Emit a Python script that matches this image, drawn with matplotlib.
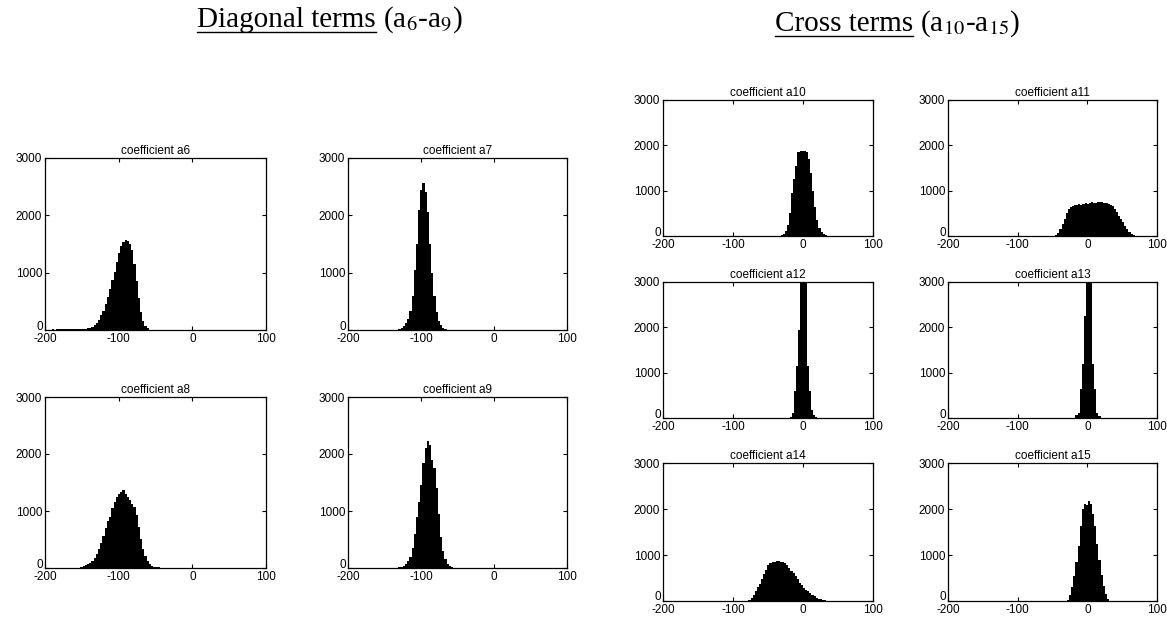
import numpy as np
import matplotlib.pyplot as plt
import matplotlib.transforms as mtransforms
from matplotlib.lines import Line2D

plt.rcParams['font.family'] = ['Liberation Sans', 'DejaVu Sans']
plt.rcParams['mathtext.fontset'] = 'stix'
plt.rcParams['axes.unicode_minus'] = False

# histogram data: left edge of first bin, bin width 3, counts per bin
bin_width = 3.0

a6_start = -200
a6_counts = [5, 8, 6, 10, 8, 12, 10, 12, 15, 12, 15, 18, 15, 20, 18, 20, 22, 25, 25, 28,
             30, 50, 80, 120, 180, 260, 340, 450, 580, 720, 880, 1020, 1180, 1350, 1460,
             1540, 1570, 1550, 1500, 1400, 1150, 850, 550, 320, 160, 70, 30]

a7_start = -131
a7_counts = [20, 40, 70, 120, 200, 330, 600, 1050, 1500, 2100, 2450, 2560, 2400, 2050,
             1500, 1000, 600, 320, 160, 80, 40, 20]

a8_start = -152
a8_counts = [20, 30, 45, 65, 90, 130, 180, 250, 340, 440, 560, 700, 820, 900, 1060, 1150,
             1250, 1290, 1330, 1370, 1290, 1250, 1200, 1130, 1070, 930, 720, 510, 340, 210,
             120, 70, 40, 25, 15, 10]

a9_start = -131
a9_counts = [15, 25, 40, 70, 120, 200, 350, 600, 900, 1150, 1450, 1850, 2100, 2220, 2150,
             1900, 1750, 1400, 950, 550, 300, 150, 70, 35, 15]

a10_start = -32
a10_counts = [20, 50, 120, 250, 500, 950, 1250, 1550, 1850, 1880, 1880, 1880, 1850, 1700,
              1400, 1000, 650, 350, 180, 90, 40, 15]

a11_start = -46
a11_counts = [20, 60, 150, 260, 380, 500, 600, 650, 670, 680, 690, 700, 690, 710, 720, 700,
              720, 740, 720, 730, 750, 760, 740, 720, 730, 700, 690, 660, 600, 520, 440, 370,
              300, 220, 150, 90, 40, 15]

a12_start = -19
a12_counts = [30, 120, 600, 1150, 1950, 3500, 4500, 3800, 1150, 600, 180, 60, 20]

a13_start = -17
a13_counts = [60, 120, 650, 1200, 2250, 4000, 4500, 3600, 1200, 650, 120, 40]

a14_start = -78
a14_counts = [20, 60, 130, 220, 300, 380, 480, 580, 680, 780, 820, 840, 850, 860, 870, 850,
              840, 820, 780, 720, 660, 600, 540, 470, 400, 340, 290, 250, 220, 180, 140, 100,
              70, 50, 35, 25, 15, 10, 5]

a15_start = -29
a15_counts = [30, 120, 300, 550, 850, 1200, 1620, 2000, 2100, 2080, 2170, 2100, 1900, 1620,
              1250, 900, 560, 320, 150, 50]

x_ticks = [-200, -100, 0, 100]
y_ticks = [0, 1000, 2000, 3000]

W, H = 1167, 621
fig = plt.figure(figsize=(W / 100, H / 100), dpi=100)

def px_axes(left, top, right, bottom):
    return [left / W, (H - bottom) / H, (right - left) / W, (bottom - top) / H]

panels = [
    ("coefficient a6", a6_start, a6_counts, (45, 158, 266, 330)),
    ("coefficient a7", a7_start, a7_counts, (348, 158, 567, 330)),
    ("coefficient a8", a8_start, a8_counts, (45, 397, 266, 568)),
    ("coefficient a9", a9_start, a9_counts, (348, 397, 567, 568)),
    ("coefficient a10", a10_start, a10_counts, (663, 100, 873, 236)),
    ("coefficient a11", a11_start, a11_counts, (948, 100, 1157, 236)),
    ("coefficient a12", a12_start, a12_counts, (663, 282, 873, 418)),
    ("coefficient a13", a13_start, a13_counts, (948, 282, 1157, 418)),
    ("coefficient a14", a14_start, a14_counts, (663, 463, 873, 601)),
    ("coefficient a15", a15_start, a15_counts, (948, 463, 1157, 601)),
]

# nudge the "0" y label up a little, like the original MATLAB output
zero_shift = mtransforms.ScaledTranslation(1 / 100, 5 / 100, fig.dpi_scale_trans)

for title, start, counts, box in panels:
    ax = fig.add_axes(px_axes(*box))
    edges = start + bin_width * np.arange(len(counts) + 1)
    ax.stairs(counts, edges, fill=True, color='black')
    ax.set_xlim(-200, 100)
    ax.set_ylim(0, 3000)
    ax.set_xticks(x_ticks)
    ax.set_yticks(y_ticks)
    ax.tick_params(direction='in', length=3, width=0.8, top=True, right=True,
                   labelsize=8.5, pad=2)
    ax.get_yticklabels()[0].set_transform(ax.get_yticklabels()[0].get_transform() + zero_shift)
    for s in ax.spines.values():
        s.set_linewidth(0.9)
    ax.set_title(title, fontsize=8.5, pad=3)

# header texts with underlined first part
renderer = fig.canvas.get_renderer()

def header(x_px, base_px, main, rest):
    t1 = fig.text(x_px / W, 1 - base_px / H, main, family='Liberation Serif',
                  fontsize=21, ha='left', va='baseline')
    bb = t1.get_window_extent(renderer)
    fig.text(bb.x1 / W, 1 - base_px / H, rest, family='Liberation Serif',
             fontsize=21, ha='left', va='baseline')
    y_line = 1 - (base_px + 5) / H
    fig.add_artist(Line2D([bb.x0 / W, bb.x1 / W], [y_line, y_line],
                          transform=fig.transFigure, color='black', linewidth=1))

header(197, 27, "Diagonal terms", r" (a$_{6}$-a$_{9}$)")
header(775, 31, "Cross terms", r" (a$_{10}$-a$_{15}$)")

plt.savefig("out.png", dpi=100)
plt.close()
